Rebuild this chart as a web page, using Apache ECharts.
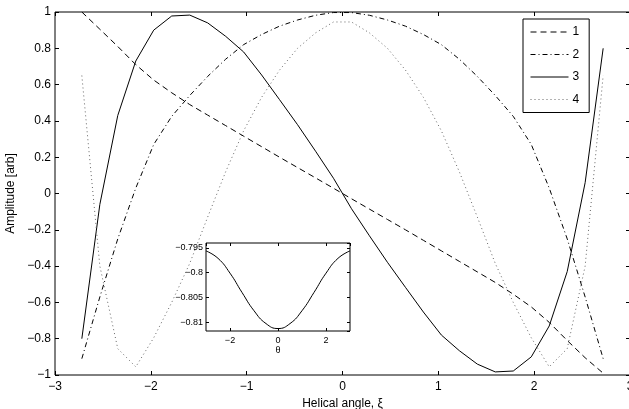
<!DOCTYPE html>
<html>
<head>
<meta charset="utf-8">
<script src="https://cdn.jsdelivr.net/npm/echarts@6.0.0/dist/echarts.min.js"></script>
<style>
  html, body { margin: 0; padding: 0; background: #fff; }
  #main { width: 629px; height: 409px; }
</style>
</head>
<body>
<div id="main"></div>
<script>
// helical angle samples
var xi = [-2.720, -2.532, -2.345, -2.157, -1.970, -1.782, -1.594, -1.407, -1.219, -1.032,
  -0.844, -0.657, -0.469, -0.281, -0.094, 0.094, 0.281, 0.469, 0.657, 0.844,
  1.032, 1.219, 1.407, 1.594, 1.782, 1.970, 2.157, 2.345, 2.532, 2.720]
// mode 1 (dashed)
var mode1 = [1.00, 0.905, 0.81, 0.71, 0.625, 0.555, 0.49, 0.432, 0.374, 0.316,
  0.258, 0.200, 0.143, 0.086, 0.029, -0.029, -0.086, -0.143, -0.200, -0.258,
  -0.316, -0.374, -0.432, -0.49, -0.555, -0.625, -0.71, -0.81, -0.905, -0.99]
// mode 2 (dash-dot)
var mode2 = [-0.91, -0.57, -0.25, 0.03, 0.27, 0.425, 0.54, 0.645, 0.74, 0.82,
  0.876, 0.922, 0.956, 0.982, 0.997, 0.997, 0.982, 0.956, 0.922, 0.876,
  0.82, 0.74, 0.645, 0.54, 0.425, 0.27, 0.03, -0.25, -0.57, -0.91]
// mode 3 (solid)
var mode3 = [-0.80, -0.06, 0.43, 0.73, 0.90, 0.978, 0.983, 0.94, 0.866, 0.78,
  0.653, 0.517, 0.379, 0.233, 0.084, -0.084, -0.233, -0.379, -0.517, -0.653,
  -0.78, -0.866, -0.94, -0.983, -0.978, -0.90, -0.73, -0.43, 0.06, 0.80]
// mode 4 (dotted)
var mode4 = [0.65, -0.40, -0.855, -0.955, -0.795, -0.60, -0.385, -0.13, 0.12, 0.345,
  0.53, 0.68, 0.80, 0.885, 0.945, 0.945, 0.885, 0.80, 0.68, 0.53,
  0.345, 0.12, -0.13, -0.385, -0.60, -0.795, -0.955, -0.855, -0.40, 0.65]
var modeNames = ['1', '2', '3', '4']

// inset
var theta = [-3, -2.5, -2, -1.5, -1, -0.5, 0, 0.5, 1, 1.5, 2, 2.5, 3]
var insetVal = [-0.7956, -0.7971, -0.8001, -0.8040, -0.8077, -0.8103, -0.8113,
  -0.8103, -0.8077, -0.8040, -0.8001, -0.7971, -0.7956]

function pairs(xs, ys) {
  var out = []
  for (var i = 0; i < xs.length; i++) out.push([xs[i], ys[i]])
  return out
}
function minus(v) {
  return String(v).replace('-', '\u2212')
}

var font = "'Liberation Sans', Arial, sans-serif"
var black = '#000'

var mainTick = { show: true, inside: true, length: 4, lineStyle: { color: black, width: 1 } }
var insetTick = { show: true, inside: true, length: 3, lineStyle: { color: black, width: 1 } }
var noLine = { show: false, onZero: false }

var styles = [
  { color: black, width: 1, type: [6, 4] },
  { color: black, width: 1, type: [5, 3, 1, 3] },
  { color: black, width: 1, type: 'solid' },
  { color: '#666', width: 1, type: [1, 3] }
]
var modes = [mode1, mode2, mode3, mode4]

var series = []
for (var s = 0; s < 4; s++) {
  series.push({
    name: modeNames[s],
    type: 'line',
    xAxisIndex: 0,
    yAxisIndex: 0,
    data: pairs(xi, modes[s]),
    symbol: 'none',
    lineStyle: styles[s],
    z: 2
  })
}
series.push({
  name: 'inset',
  type: 'line',
  xAxisIndex: 2,
  yAxisIndex: 2,
  data: pairs(theta, insetVal),
  symbol: 'none',
  smooth: true,
  lineStyle: { color: black, width: 1 },
  z: 10
})

var option = {
  animation: false,
  backgroundColor: '#fff',
  textStyle: { fontFamily: font, color: black },
  grid: [
    { left: 55, top: 12, right: -1, bottom: 34, outerBoundsMode: 'none', containLabel: false,
      show: true, borderColor: black, borderWidth: 1, backgroundColor: 'transparent' },
    { left: 206, top: 243, width: 144, height: 88, outerBoundsMode: 'none', containLabel: false,
      show: true, borderColor: black, borderWidth: 1, backgroundColor: '#fff', z: 5 }
  ],
  legend: {
    data: modeNames,
    orient: 'vertical',
    left: 523,
    top: 19,
    itemWidth: 38,
    itemHeight: 14,
    itemGap: 10.5,
    padding: [7, 10, 7, 7],
    borderColor: black,
    borderWidth: 1,
    backgroundColor: '#fff',
    lineStyle: { width: 1 },
    itemStyle: { color: 'rgba(0,0,0,0)', borderColor: 'rgba(0,0,0,0)', borderWidth: 0, opacity: 0 },
    textStyle: { fontSize: 12, color: black, fontFamily: font, padding: [0, 0, 0, -1] }
  },
  xAxis: [
    {
      type: 'value', gridIndex: 0, min: -3, max: 3, interval: 1,
      name: 'Helical angle, \u03be', nameLocation: 'middle', nameGap: 18,
      nameTextStyle: { fontSize: 12, color: black },
      axisLine: noLine,
      axisTick: mainTick,
      splitLine: { show: false },
      axisLabel: { fontSize: 12, color: black, margin: 6, formatter: minus }
    },
    {
      type: 'value', gridIndex: 0, min: -3, max: 3, interval: 1, position: 'top',
      axisLine: noLine, axisTick: mainTick,
      splitLine: { show: false }, axisLabel: { show: false }
    },
    {
      type: 'value', gridIndex: 1, min: -3, max: 3, minInterval: 2, maxInterval: 2,
      name: '\u03b8', nameLocation: 'middle', nameGap: 15,
      nameTextStyle: { fontSize: 9, color: black },
      axisLine: noLine, axisTick: insetTick,
      splitLine: { show: false },
      axisLabel: { fontSize: 9, color: black, margin: 5, showMinLabel: false, showMaxLabel: false, formatter: minus },
      z: 6
    },
    {
      type: 'value', gridIndex: 1, min: -3, max: 3, minInterval: 2, maxInterval: 2, position: 'top',
      axisLine: noLine, axisTick: insetTick,
      splitLine: { show: false }, axisLabel: { show: false }, z: 6
    }
  ],
  yAxis: [
    {
      type: 'value', gridIndex: 0, min: -1, max: 1, interval: 0.2,
      name: 'Amplitude [arb]', nameLocation: 'middle', nameGap: 36,
      nameTextStyle: { fontSize: 12, color: black },
      axisLine: noLine,
      axisTick: mainTick,
      splitLine: { show: false },
      axisLabel: { fontSize: 12, color: black, margin: 4, formatter: minus }
    },
    {
      type: 'value', gridIndex: 0, min: -1, max: 1, interval: 0.2, position: 'right',
      axisLine: noLine, axisTick: mainTick,
      splitLine: { show: false }, axisLabel: { show: false }
    },
    {
      type: 'value', gridIndex: 1, min: -0.8118, max: -0.794, minInterval: 0.005, maxInterval: 0.005,
      axisLine: noLine, axisTick: insetTick,
      splitLine: { show: false },
      axisLabel: { fontSize: 9, color: black, margin: 3, showMinLabel: false, showMaxLabel: false, formatter: minus },
      z: 6
    },
    {
      type: 'value', gridIndex: 1, min: -0.8118, max: -0.794, minInterval: 0.005, maxInterval: 0.005, position: 'right',
      axisLine: noLine, axisTick: insetTick,
      splitLine: { show: false }, axisLabel: { show: false }, z: 6
    }
  ],
  series: series
}

var myChart = echarts.init(document.getElementById('main'), null, { renderer: 'canvas' })
myChart.setOption(option)
window.addEventListener('resize', function() {
  myChart.resize()
})
</script>
</body>
</html>
